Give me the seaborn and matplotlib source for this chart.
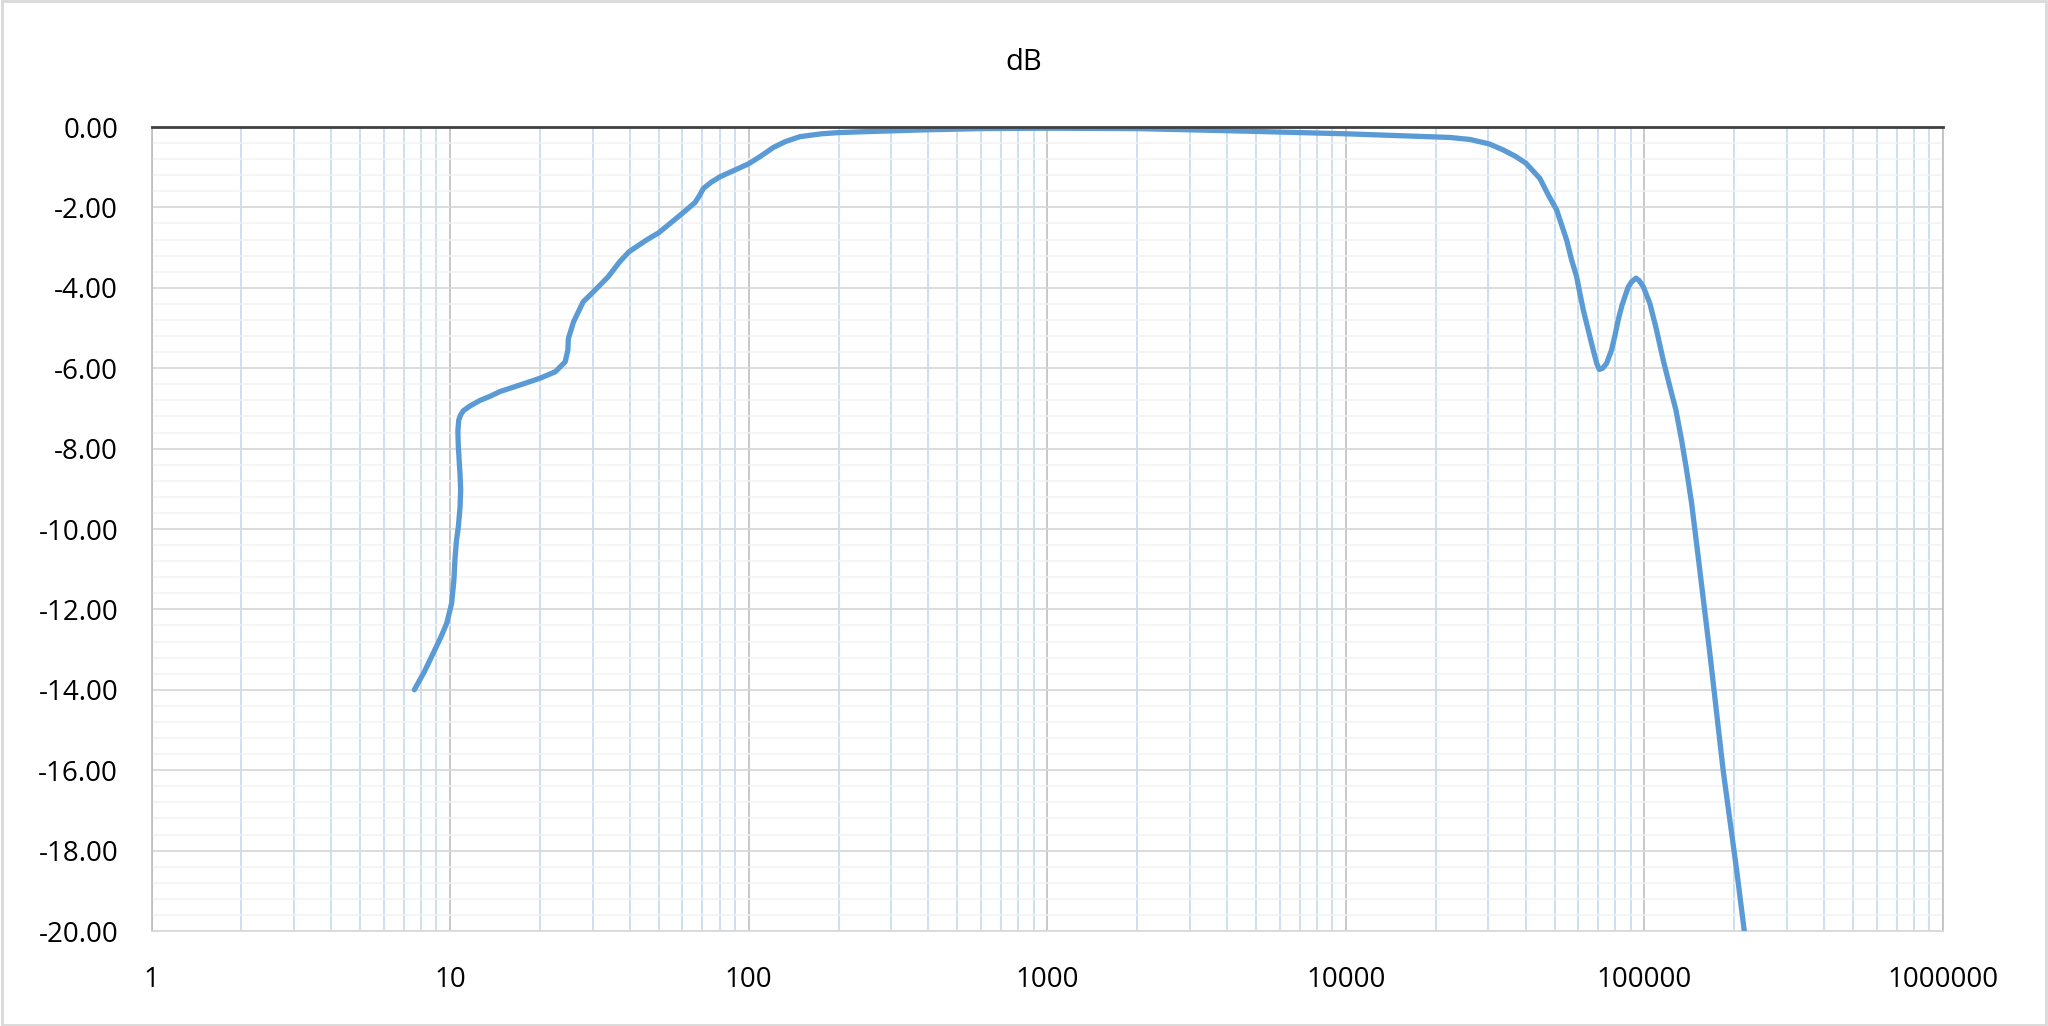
import numpy as np
import pandas as pd
import matplotlib
matplotlib.use("Agg")
import matplotlib.pyplot as plt
import matplotlib.ticker as mticker
from matplotlib.patches import Rectangle
import seaborn as sns

# ---- data ----
freq_hz = [7.59, 8.2, 8.78, 9.3, 9.74, 10.12, 10.3, 10.38, 10.5, 10.66, 10.8, 10.85,
           10.8, 10.74, 10.65, 10.62, 10.69, 10.85, 11.07, 11.66, 12.6, 13.6, 14.7, 17.1,
           20.0, 22.5, 24.3, 24.8, 24.9, 25.9, 27.9, 30.0, 33.9, 37.0, 39.8, 45.5, 50.0,
           59.9, 66.1, 68.5, 70.5, 75.0, 80.1, 89.9, 99.7, 109.0, 120.9, 133.0, 148.5,
           175.0, 199.6, 236.0, 393.0, 600.0, 1000.0, 2000.0, 3000.0, 5000.0, 10090.0,
           22315.0, 26040.0, 30200.0, 33650.0, 37000.0, 40100.0, 44670.0, 47640.0,
           50800.0, 54880.0, 57040.0, 59280.0, 60800.0, 62400.0, 64000.0, 65700.0,
           67400.0, 69200.0, 70600.0, 72500.0, 74700.0, 77600.0, 79600.0, 81700.0,
           84000.0, 86000.0, 88300.0, 90600.0, 93700.0, 96000.0, 99100.0, 104300.0,
           109800.0, 115600.0, 121700.0, 127500.0, 133200.0, 138400.0, 143900.0,
           151400.0, 165600.0, 183500.0, 203600.0, 216000.0]
gain_db = [-14.0, -13.55, -13.09, -12.7, -12.35, -11.85, -11.27, -10.77, -10.3, -9.94, -9.45, -9.03,
           -8.65, -8.37, -7.9, -7.55, -7.29, -7.16, -7.06, -6.94, -6.8, -6.7, -6.58, -6.42,
           -6.25, -6.09, -5.84, -5.55, -5.26, -4.85, -4.35, -4.12, -3.72, -3.35, -3.1, -2.81, -2.63,
           -2.15, -1.88, -1.7, -1.53, -1.37, -1.24, -1.07, -0.92, -0.74, -0.51, -0.36, -0.24,
           -0.17, -0.14, -0.12, -0.07, -0.04, -0.03, -0.04, -0.07, -0.11, -0.17,
           -0.26, -0.31, -0.42, -0.57, -0.73, -0.9, -1.28, -1.69,
           -2.06, -2.81, -3.31, -3.72, -4.14, -4.55, -4.88, -5.22,
           -5.55, -5.88, -6.03, -6.0, -5.88, -5.55, -5.2, -4.8,
           -4.45, -4.22, -3.98, -3.85, -3.76, -3.82, -3.97, -4.39,
           -5.05, -5.8, -6.46, -7.04, -7.79, -8.53, -9.36,
           -10.69, -13.09, -16.0, -18.48, -20.0]
title_text = "dB"
y_ticks = list(range(0, -21, -2))
x_ticks = [1, 10, 100, 1000, 10000, 100000, 1000000]

df = pd.DataFrame({"freq": freq_hz, "db": gain_db})

sns.set_style("white")
plt.rcParams["font.family"] = ["Open Sans", "DejaVu Sans"]

fig = plt.figure(figsize=(20.48, 10.26), dpi=100)
ax = fig.add_axes([151.5 / 2048, 1 - 931 / 1026, (1943 - 151.5) / 2048, (931 - 127) / 1026])

sns.lineplot(data=df, x="freq", y="db", ax=ax, sort=False, estimator=None,
             color="#5b9bd5", linewidth=3.8, zorder=5)
for ln in ax.get_lines():
    ln.set_solid_joinstyle("round")
    ln.set_solid_capstyle("round")

ax.set_xscale("log")
ax.set_xlim(1, 1e6)
ax.set_ylim(-20, 0)
ax.set_xlabel("")
ax.set_ylabel("")

ax.xaxis.set_major_locator(mticker.FixedLocator(x_ticks))
ax.xaxis.set_minor_locator(mticker.LogLocator(base=10, subs=np.arange(2, 10), numticks=100))
ax.xaxis.set_major_formatter(mticker.FuncFormatter(lambda v, p: f"{int(round(v))}"))
ax.xaxis.set_minor_formatter(mticker.NullFormatter())
ax.yaxis.set_major_locator(mticker.FixedLocator(y_ticks))
ax.yaxis.set_minor_locator(mticker.MultipleLocator(0.4))
ax.yaxis.set_major_formatter(mticker.FormatStrFormatter("%.2f"))

ax.set_axisbelow(True)
ax.grid(True, axis="y", which="minor", color="#f2f2f2", linewidth=1.1)
ax.grid(True, axis="y", which="major", color="#d9d9d9", linewidth=1.3)
ax.grid(True, axis="x", which="minor", color="#bdd7ee", linewidth=1.1)
ax.grid(True, axis="x", which="major", color="#bfbfbf", linewidth=1.2)

ax.tick_params(axis="both", which="both", length=0)
ax.tick_params(axis="y", which="major", pad=24, labelsize=20, labelcolor="#000000")
ax.tick_params(axis="x", which="major", pad=25, labelsize=20, labelcolor="#000000")

ax.spines["top"].set_color("#404040")
ax.spines["top"].set_linewidth(2.0)
ax.spines["left"].set_color("#bfbfbf")
ax.spines["left"].set_linewidth(1.2)
ax.spines["right"].set_color("#bfbfbf")
ax.spines["right"].set_linewidth(1.2)
ax.spines["bottom"].set_color("#d9d9d9")
ax.spines["bottom"].set_linewidth(1.3)
ax.spines["top"].set_zorder(6)

fig.text(0.5, 1 - 70 / 1026, title_text, ha="center", va="baseline", fontsize=21, color="#000000")

fig.patches.append(Rectangle((0.001, 0.001), 0.998, 0.998, transform=fig.transFigure,
                             fill=False, edgecolor="#d9d9d9", linewidth=2))

fig.savefig("out.png", dpi=100, facecolor="white")
